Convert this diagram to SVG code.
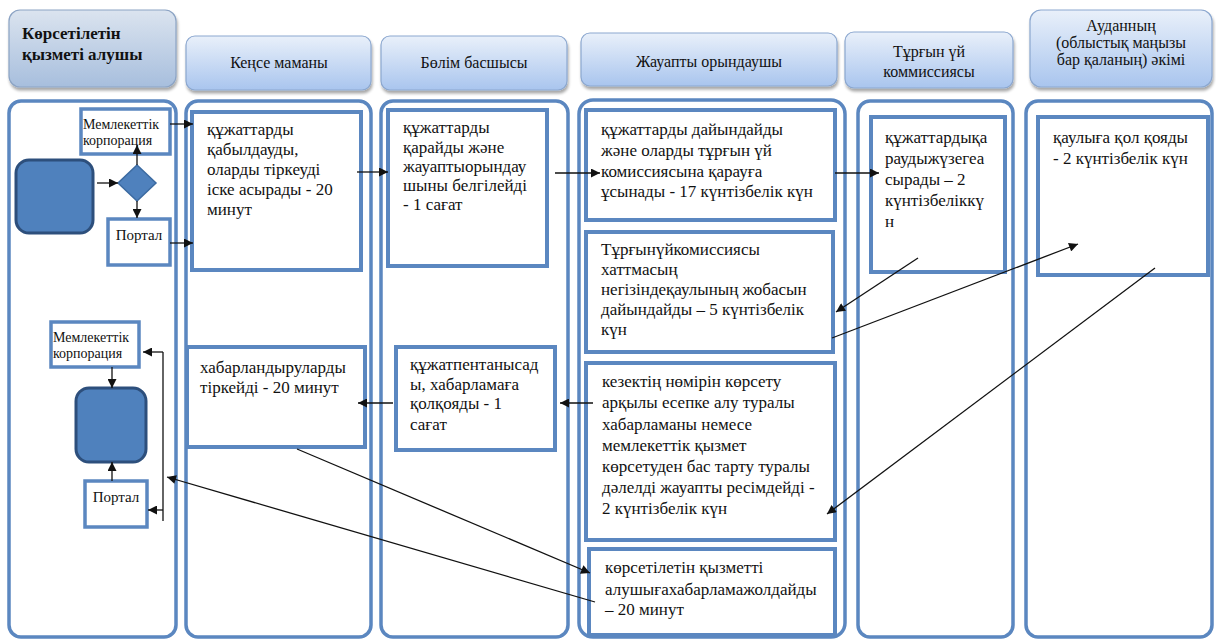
<svg xmlns="http://www.w3.org/2000/svg" width="1216" height="642" viewBox="0 0 1216 642">
<style>
text{font-family:'Liberation Serif','DejaVu Serif',serif;fill:#111}
.hdr{stroke:#8ba7cf;stroke-width:1.2;fill:url(#hg)}
.hdr1{stroke:#8ba3c4;stroke-width:1.2;fill:url(#hg1)}
.lane{fill:#fff;stroke:#5b87c0;stroke-width:3.5}
.box{fill:#fff;stroke:#5b87c0;stroke-width:4}
.sbox{fill:#fff;stroke:#5b87c0;stroke-width:3.5}
.term{fill:#4f81bd;stroke:#2d4f7c;stroke-width:3}
.ht{font-size:16px;text-anchor:middle}
.ht1{font-size:17px;font-weight:bold}
.t{font-size:17px}
.st{font-size:14px}
.pt{font-size:15px;text-anchor:middle}
.c{fill:none;stroke:#111;stroke-width:1.3}
.ca{fill:none;stroke:#111;stroke-width:1.3;marker-end:url(#ah)}
</style>
<defs>
<linearGradient id="hg" x1="0" y1="0" x2="0" y2="1">
<stop offset="0" stop-color="#e9f0fa"/>
<stop offset="1" stop-color="#a9c5ee"/>
</linearGradient>
<linearGradient id="hg1" x1="0" y1="0" x2="0" y2="1">
<stop offset="0" stop-color="#dbe4ef"/>
<stop offset="1" stop-color="#a7bedd"/>
</linearGradient>
<filter id="sh" x="-10%" y="-10%" width="120%" height="130%">
<feGaussianBlur in="SourceAlpha" stdDeviation="1.5"/>
<feOffset dx="1" dy="2.5" result="o"/>
<feComponentTransfer><feFuncA type="linear" slope="0.35"/></feComponentTransfer>
<feMerge><feMergeNode/><feMergeNode in="SourceGraphic"/></feMerge>
</filter>
<marker id="ah" viewBox="0 0 10 10" refX="10" refY="5" markerWidth="10" markerHeight="9" markerUnits="userSpaceOnUse" orient="auto">
<path d="M0,0 L10,5 L0,10 z" fill="#111"/>
</marker>
</defs>

<g id="headers">
<g id="h1"><rect class="hdr1" x="9" y="10" width="167" height="77" rx="11" filter="url(#sh)"/>
<text class="ht1" x="22" y="39">Көрсетілетін</text><text class="ht1" x="22" y="60">қызметі алушы</text></g>
<g id="h2"><rect class="hdr" x="186" y="36" width="185" height="54" rx="9" filter="url(#sh)"/>
<text class="ht" x="279" y="68">Кеңсе маманы</text></g>
<g id="h3"><rect class="hdr" x="381" y="36" width="186" height="54" rx="9" filter="url(#sh)"/>
<text class="ht" x="474" y="68">Бөлім басшысы</text></g>
<g id="h4"><rect class="hdr" x="581" y="33" width="256" height="53" rx="9" filter="url(#sh)"/>
<text class="ht" x="709" y="67">Жауапты орындаушы</text></g>
<g id="h5"><rect class="hdr" x="845" y="32" width="168" height="56" rx="9" filter="url(#sh)"/>
<text class="ht" x="929" y="57">Тұрғын үй</text><text class="ht" x="929" y="77">коммиссиясы</text></g>
<g id="h6"><rect class="hdr" x="1030" y="10" width="182" height="77" rx="11" filter="url(#sh)"/>
<text class="ht" x="1121" y="31">Ауданның</text><text class="ht" x="1121" y="48">(облыстық маңызы</text><text class="ht" x="1121" y="65">бар қаланың) әкімі</text></g>
</g>

<g id="lanes">
<rect class="lane" x="9" y="101" width="167" height="536" rx="12"/>
<rect class="lane" x="186" y="101" width="185" height="536" rx="12"/>
<rect class="lane" x="381" y="101" width="187" height="536" rx="12"/>
<rect class="lane" x="579" y="100" width="266" height="537" rx="14"/>
<rect class="lane" x="858" y="101" width="155" height="536" rx="12"/>
<rect class="lane" x="1026" y="101" width="186" height="536" rx="12"/>
</g>

<g id="nodes">
<g id="mk1"><rect class="sbox" x="81" y="109" width="89" height="45"/>
<text class="st" x="83" y="129">Мемлекеттік</text><text class="st" x="83" y="145">корпорация</text></g>
<g id="start1"><rect class="term" x="16" y="160" width="77" height="73" rx="13"/></g>
<g id="dec"><path d="M137,165 L156,183 L137,201 L118,183 z" fill="#4f81bd" stroke="#3b6aa1" stroke-width="1.5"/></g>
<g id="p1"><rect class="sbox" x="108" y="219" width="62" height="46"/>
<text class="pt" x="139" y="240">Портал</text></g>

<g id="mk2"><rect class="sbox" x="51" y="322" width="88" height="45"/>
<text class="st" x="53" y="342">Мемлекеттік</text><text class="st" x="53" y="358">корпорация</text></g>
<g id="end2"><rect class="term" x="76" y="388" width="70" height="74" rx="13"/></g>
<g id="p2"><rect class="sbox" x="85" y="481" width="62" height="46"/>
<text class="pt" x="116" y="502">Портал</text></g>

<g id="A"><rect class="box" x="192" y="112" width="169" height="158"/>
<text class="t" x="207" y="135">құжаттарды</text><text class="t" x="207" y="155">қабылдауды,</text><text class="t" x="207" y="175">оларды тіркеуді</text><text class="t" x="207" y="195">іске асырады - 20</text><text class="t" x="207" y="215">минут</text></g>

<g id="B"><rect class="box" x="388" y="110" width="159" height="156"/>
<text class="t" x="403" y="133">құжаттарды</text><text class="t" x="403" y="153">қарайды және</text><text class="t" x="403" y="172">жауаптыорындау</text><text class="t" x="403" y="191">шыны белгілейді</text><text class="t" x="403" y="210">- 1 сағат</text></g>

<g id="C"><rect class="box" x="586" y="110" width="249" height="110"/>
<text class="t" x="601" y="135">құжаттарды дайындайды</text><text class="t" x="601" y="156">және оларды тұрғын үй</text><text class="t" x="601" y="177">комиссиясына қарауға</text><text class="t" x="601" y="197">ұсынады - 17 күнтізбелік күн</text></g>

<g id="D"><rect class="box" x="586" y="232" width="247" height="120"/>
<text class="t" x="601" y="255">Тұрғынүйкомиссиясы</text><text class="t" x="601" y="275">хаттмасың</text><text class="t" x="601" y="295">негізіндеқаулының жобасын</text><text class="t" x="601" y="315">дайындайды – 5 күнтізбелік</text><text class="t" x="601" y="335">күн</text></g>

<g id="E"><rect class="box" x="871" y="117" width="134" height="155"/>
<text class="t" x="885" y="143">құжаттардықа</text><text class="t" x="885" y="164">раудыжүзегеа</text><text class="t" x="885" y="185">сырады – 2</text><text class="t" x="885" y="206">күнтізбеліккү</text><text class="t" x="885" y="227">н</text></g>

<g id="F"><rect class="box" x="1038" y="117" width="170" height="158"/>
<text class="t" x="1053" y="143">қаулыға қол қояды</text><text class="t" x="1053" y="164">- 2 күнтізбелік күн</text></g>

<g id="G"><rect class="box" x="586" y="363" width="249" height="177"/>
<text class="t" x="602" y="387">кезектің нөмірін көрсету</text><text class="t" x="602" y="408">арқылы есепке алу туралы</text><text class="t" x="602" y="430">хабарламаны немесе</text><text class="t" x="602" y="451">мемлекеттік қызмет</text><text class="t" x="602" y="472">көрсетуден бас тарту туралы</text><text class="t" x="602" y="493">дәлелді жауапты ресімдейді -</text><text class="t" x="602" y="514">2 күнтізбелік күн</text></g>

<g id="H"><rect class="box" x="396" y="347" width="159" height="103"/>
<text class="t" x="410" y="370">құжатпентанысад</text><text class="t" x="410" y="390">ы, хабарламаға</text><text class="t" x="410" y="409">қолқояды - 1</text><text class="t" x="410" y="430">сағат</text></g>

<g id="I"><rect class="box" x="187" y="347" width="178" height="100"/>
<text class="t" x="200" y="373">хабарландыруларды</text><text class="t" x="200" y="393">тіркейді - 20 минут</text></g>

<g id="J"><rect class="box" x="589" y="549" width="246" height="86"/>
<text class="t" x="605" y="573">көрсетілетін қызметті</text><text class="t" x="605" y="595">алушығахабарламажолдайды</text><text class="t" x="605" y="615">– 20 минут</text></g>
</g>

<g id="connectors">
<line class="ca" x1="97" y1="183" x2="118" y2="183"/>
<line class="ca" x1="137" y1="165" x2="137" y2="145"/>
<line class="ca" x1="137" y1="201" x2="137" y2="218"/>
<line class="ca" x1="170" y1="124" x2="193" y2="124"/>
<line class="ca" x1="170" y1="243" x2="193" y2="243"/>
<line class="ca" x1="357" y1="172" x2="388" y2="172"/>
<line class="ca" x1="555" y1="173" x2="600" y2="173"/>
<line class="ca" x1="835" y1="173" x2="879" y2="173"/>
<line class="ca" x1="918" y1="258" x2="836" y2="312"/>
<line class="ca" x1="832" y1="338" x2="1078" y2="244"/>
<line class="ca" x1="1155" y1="268" x2="827" y2="514"/>
<line class="ca" x1="593" y1="403" x2="560" y2="403"/>
<line class="ca" x1="393" y1="403" x2="358" y2="403"/>
<line class="ca" x1="297" y1="449" x2="590" y2="573"/>
<line class="ca" x1="595" y1="602" x2="167" y2="477"/>
<line class="c" x1="163" y1="352" x2="163" y2="521"/>
<line class="ca" x1="163" y1="352" x2="143" y2="352"/>
<line class="ca" x1="163" y1="510" x2="148" y2="510"/>
<line class="ca" x1="112" y1="367" x2="112" y2="388"/>
<line class="ca" x1="112" y1="481" x2="112" y2="462"/>
</g>
</svg>
